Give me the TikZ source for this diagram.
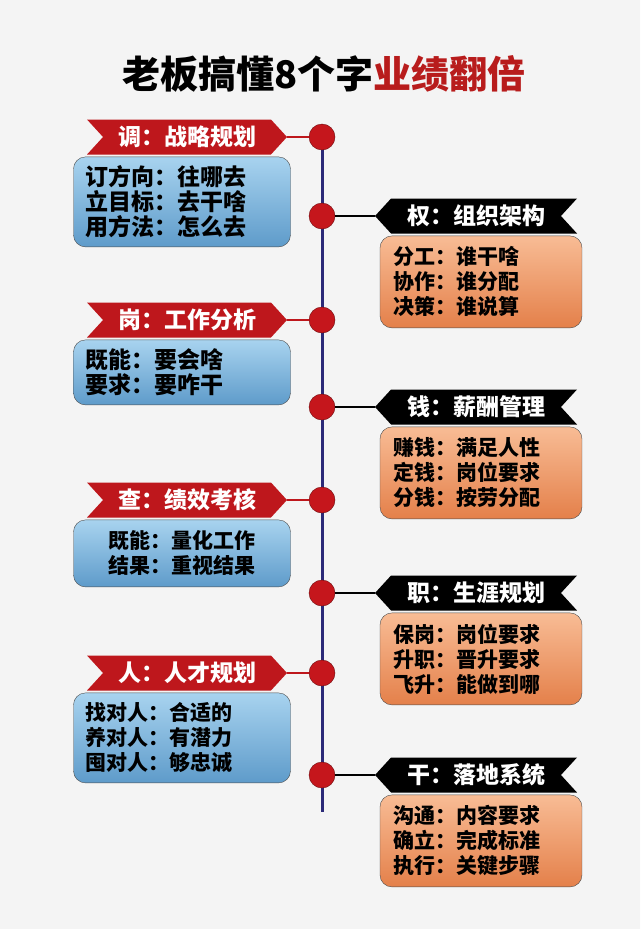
\documentclass[tikz,border=0pt]{standalone}
\usepackage{fontspec}
\setmainfont{Noto Sans CJK SC}
\usetikzlibrary{shapes,shapes.symbols,positioning}
\definecolor{bannerred}{HTML}{BE171C}
\definecolor{dotred}{HTML}{C5161C}
\definecolor{titlered}{HTML}{B81C1C}
\definecolor{lineblue}{HTML}{2B2A78}
\definecolor{blueA}{HTML}{A8D3EF}
\definecolor{blueB}{HTML}{5E9BCA}
\definecolor{orangeA}{HTML}{F8BC95}
\definecolor{orangeB}{HTML}{E4804A}

\begin{document}
\begin{tikzpicture}[x=1pt, y=-1pt,
    lb/.style={signal, signal from=west, signal to=east, signal pointer angle=95, fill=bannerred, text=white, font=\fontsize{23}{25}\selectfont\bfseries, minimum width=200pt, minimum height=35pt, inner sep=0pt},
    rb/.style={signal, signal from=east, signal to=west, signal pointer angle=95, fill=black, text=white, font=\fontsize{23}{25}\selectfont\bfseries, minimum width=202pt, minimum height=35pt, inner sep=0pt},
    lbox/.style={rectangle, rounded corners=12pt, draw=gray!60!black, top color=blueA, bottom color=blueB, text width=193pt, align=left, inner xsep=12pt, inner ysep=6pt, font=\fontsize{21}{25}\selectfont\bfseries},
    rbox/.style={rectangle, rounded corners=12pt, draw=gray!60!black, top color=orangeA, bottom color=orangeB, text width=176pt, align=left, inner xsep=13pt, inner ysep=6pt, font=\fontsize{21}{25}\selectfont\bfseries},
    dot/.style={circle, fill=dotred, draw=dotred!55!black, minimum size=26pt, inner sep=0pt},
    redar/.style={line width=2.5pt, draw=bannerred},
    blkar/.style={line width=2.5pt, draw=black}]
    \shade [left color=gray!9, middle color=white, right color=gray!9] (0,0) rectangle (640,929);
    \useasboundingbox (0,0) rectangle (640,929);
    \node [font=\fontsize{38}{40}\selectfont\bfseries] (title) at (324,74) {老板搞懂8个字\textcolor{titlered}{业绩翻倍}};
    \coordinate (tltop) at (322,137);
    \coordinate (tlend) at (322,812);
    \draw [line width=3pt, lineblue] (tltop) -- (tlend);
    \node [dot] (d1) at (322,137) {};
    \node [dot] (d2) at (322,216) {};
    \node [dot] (d3) at (322,320) {};
    \node [dot] (d4) at (322,407) {};
    \node [dot] (d5) at (322,500) {};
    \node [dot] (d6) at (322,593) {};
    \node [dot] (d7) at (322,673) {};
    \node [dot] (d8) at (322,775) {};
    \node [lb] (b1) at (187,137) {调：战略规划};
    \node [rb] (b2) at (476,216) {权：组织架构};
    \node [lb] (b3) at (187,320) {岗：工作分析};
    \node [rb] (b4) at (476,407) {钱：薪酬管理};
    \node [lb] (b5) at (187,500) {查：绩效考核};
    \node [rb] (b6) at (476,593) {职：生涯规划};
    \node [lb] (b7) at (187,673) {人：人才规划};
    \node [rb] (b8) at (476,775) {干：落地系统};
    \node [lbox, below=2pt of b1, xshift=-5pt, font=\fontsize{23}{25}\selectfont\bfseries, minimum height=90pt] (x1) {订方向：往哪去\\立目标：去干啥\\用方法：怎么去};
    \node [rbox, below=2pt of b2, xshift=5pt, minimum height=92pt] (x2) {分工：谁干啥\\协作：谁分配\\决策：谁说算};
    \node [lbox, below=2pt of b3, xshift=-5pt, font=\fontsize{23}{25}\selectfont\bfseries, minimum height=65pt] (x3) {既能：要会啥\\要求：要咋干};
    \node [rbox, below=2pt of b4, xshift=5pt, minimum height=92pt] (x4) {赚钱：满足人性\\定钱：岗位要求\\分钱：按劳分配};
    \node [lbox, below=2pt of b5, xshift=-5pt, align=center, minimum height=67pt] (x5) {既能：量化工作\\结果：重视结果};
    \node [rbox, below=2pt of b6, xshift=5pt, minimum height=92pt] (x6) {保岗：岗位要求\\升职：晋升要求\\飞升：能做到哪};
    \node [lbox, below=2pt of b7, xshift=-5pt, minimum height=90pt] (x7) {找对人：合适的\\养对人：有潜力\\囤对人：够忠诚};
    \node [rbox, below=2pt of b8, xshift=5pt, minimum height=92pt] (x8) {沟通：内容要求\\确立：完成标准\\执行：关键步骤};
    \draw [redar] (b1.east) -- (d1);
    \draw [blkar] (d2) -- (b2.west);
    \draw [redar] (b3.east) -- (d3);
    \draw [blkar] (d4) -- (b4.west);
    \draw [redar] (b5.east) -- (d5);
    \draw [blkar] (d6) -- (b6.west);
    \draw [redar] (b7.east) -- (d7);
    \draw [blkar] (d8) -- (b8.west);
\end{tikzpicture}
\end{document}
